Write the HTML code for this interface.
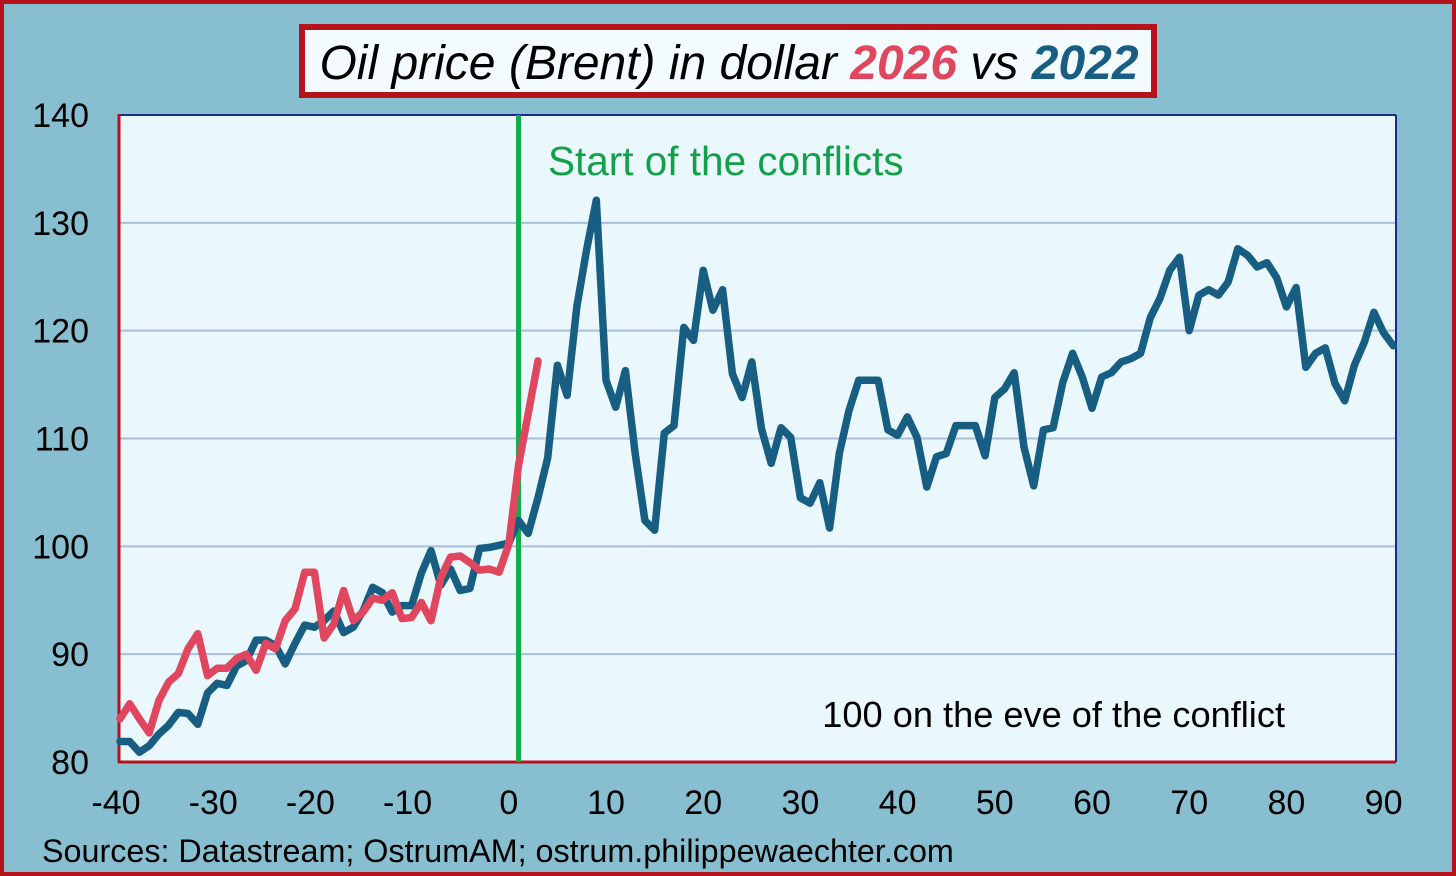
<!DOCTYPE html>
<html><head><meta charset="utf-8"><style>
html,body{margin:0;padding:0;background:#88bfd0;}
svg{display:block;font-family:"Liberation Sans",Arial,sans-serif;}
</style></head><body>
<svg id="chart" width="1456" height="876" viewBox="0 0 1456 876" xmlns="http://www.w3.org/2000/svg">
<rect x="2" y="2" width="1452" height="872" fill="#88bfd0" stroke="#b5121b" stroke-width="4"/>
<rect x="119" y="115" width="1277" height="647" fill="#eaf8fd"/>
<g id="grid"></g>
<line x1="119" y1="115" x2="1396" y2="115" stroke="#1a2a8a" stroke-width="2"/>
<line x1="1396" y1="115" x2="1396" y2="762" stroke="#1a2a8a" stroke-width="2"/>
<line x1="119" y1="114" x2="119" y2="763" stroke="#b5121b" stroke-width="3"/>
<line x1="118" y1="762" x2="1396" y2="762" stroke="#b5121b" stroke-width="3"/>
<g id="marks"></g>
<g id="labels"></g>
<rect x="302" y="27" width="852" height="68" fill="#f3fbfe" stroke="#b5121b" stroke-width="6"/>
<text x="729" y="79" text-anchor="middle" font-size="48" font-style="italic" fill="#000">Oil price (Brent) in dollar <tspan font-weight="bold" fill="#e0475f">2026</tspan> vs <tspan font-weight="bold" fill="#175e82">2022</tspan></text>
<text x="548" y="175" font-size="40.5" fill="#13a04a">Start of the conflicts</text>
<text x="1285" y="727" text-anchor="end" font-size="36.2" fill="#000">100 on the eve of the conflict</text>
<text x="42" y="862" font-size="32.3" fill="#000">Sources: Datastream;  OstrumAM; ostrum.philippewaechter.com</text>
</svg>
<script>
const yTicks=[80,90,100,110,120,130,140];
const xTicks=[-40,-30,-20,-10,0,10,20,30,40,50,60,70,80,90];
const days2022=[-40,-39,-38,-37,-36,-35,-34,-33,-32,-31,-30,-29,-28,-27,-26,-25,-24,-23,-22,-21,-20,-19,-18,-17,-16,-15,-14,-13,-12,-11,-10,-9,-8,-7,-6,-5,-4,-3,-2,-1,0,1,2,3,4,5,6,7,8,9,10,11,12,13,14,15,16,17,18,19,20,21,22,23,24,25,26,27,28,29,30,31,32,33,34,35,36,37,38,39,40,41,42,43,44,45,46,47,48,49,50,51,52,53,54,55,56,57,58,59,60,61,62,63,64,65,66,67,68,69,70,71,72,73,74,75,76,77,78,79,80,81,82,83,84,85,86,87,88,89,90,91];
const values2022=[81.9,81.9,80.9,81.5,82.6,83.4,84.6,84.5,83.5,86.4,87.3,87.1,88.9,89.4,91.3,91.3,90.8,89.1,91.0,92.7,92.5,93.1,94.0,92.0,92.5,94.0,96.2,95.7,93.9,94.5,94.5,97.5,99.6,96.4,97.9,95.9,96.1,99.8,99.9,100.1,100.3,102.4,101.2,104.5,108.2,116.8,114.0,122.2,127.5,132.1,115.4,112.9,116.3,108.6,102.4,101.5,110.5,111.2,120.3,119.1,125.6,121.9,123.8,116.0,113.8,117.1,110.9,107.7,111.0,110.1,104.5,104.0,105.9,101.7,108.6,112.6,115.4,115.4,115.4,110.8,110.3,112.0,110.1,105.5,108.3,108.6,111.2,111.2,111.2,108.4,113.8,114.6,116.1,109.2,105.6,110.8,111.0,115.2,117.9,115.7,112.8,115.7,116.1,117.1,117.4,117.9,121.2,123.0,125.6,126.8,120.0,123.3,123.8,123.3,124.5,127.6,127.0,125.9,126.3,124.9,122.2,124.0,116.6,117.9,118.4,115.1,113.5,116.8,118.9,121.7,119.8,118.6];
const days2026=[-40,-39,-38,-37,-36,-35,-34,-33,-32,-31,-30,-29,-28,-27,-26,-25,-24,-23,-22,-21,-20,-19,-18,-17,-16,-15,-14,-13,-12,-11,-10,-9,-8,-7,-6,-5,-4,-3,-2,-1,0,1,2,3];
const values2026=[84.0,85.4,84.0,82.7,85.7,87.4,88.2,90.5,91.9,88.0,88.7,88.7,89.6,90.0,88.5,91.0,90.5,93.1,94.2,97.6,97.6,91.5,92.8,95.9,93.1,93.9,95.2,95.0,95.7,93.3,93.4,94.8,93.1,97.1,99.0,99.1,98.5,97.8,97.9,97.6,100.2,107.5,112.3,117.2];
const conflictDay=1;

const NS="http://www.w3.org/2000/svg";
const X=d=>120+(d+40)*9.72;
const Y=v=>762-(v-80)*(647/60);
function mk(tag,attrs,parent){const e=document.createElementNS(NS,tag);for(const k in attrs)e.setAttribute(k,attrs[k]);parent.appendChild(e);return e;}
const grid=document.getElementById('grid'),marks=document.getElementById('marks'),labels=document.getElementById('labels');
yTicks.forEach(t=>{
  if(t>80&&t<140){const l=mk('line',{x1:119,x2:1396,y1:Y(t),y2:Y(t),stroke:'#a8bedb','stroke-width':2},grid);
  
  }
  const tx=mk('text',{x:89,y:Y(t)+12,'text-anchor':'end','font-size':34,fill:'#000'},labels);tx.textContent=t;
  
  
});
xTicks.forEach(t=>{
  const tx=mk('text',{x:X(t)-(t<0?4:0),y:814,'text-anchor':'middle','font-size':34,fill:'#000'},labels);tx.textContent=t;
  
  
});
const vl=mk('line',{x1:X(conflictDay),x2:X(conflictDay),y1:115,y2:762,stroke:'#0fae48','stroke-width':5},marks);


function series(days,vals,color,name){
  const d=days.map((x,i)=>(i?'L':'M')+X(x).toFixed(1)+' '+Y(vals[i]).toFixed(1)).join(' ');
  const p=mk('path',{d:d,fill:'none',stroke:color,'stroke-width':7.5,'stroke-linejoin':'round','stroke-linecap':'round'},marks);
  
  
}
series(days2022,values2022,'#175e82','line-2022');
series(days2026,values2026,'#e0475f','line-2026');
</script>
</body></html>
